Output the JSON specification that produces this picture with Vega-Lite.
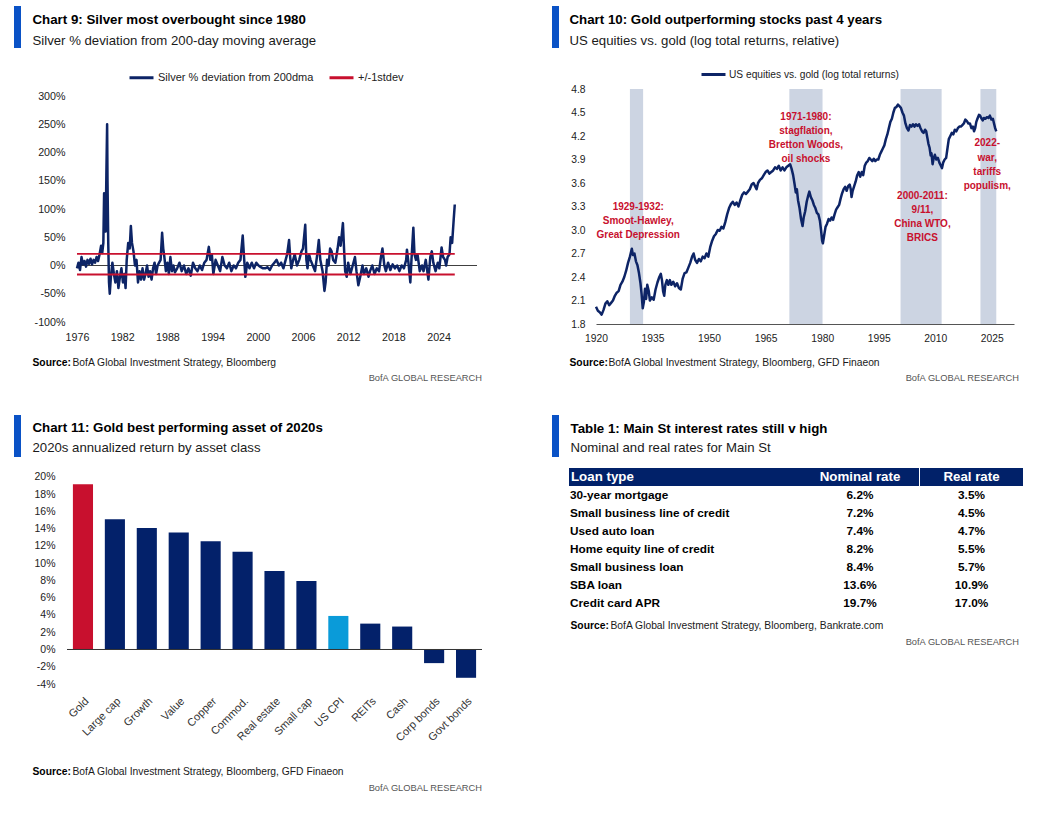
{
"$schema":"https://vega.github.io/schema/vega-lite/v6.json",
"background":"white",
"padding":{"left":14,"top":6,"right":10,"bottom":10},
"config":{
 "font":"Liberation Sans, Arial, sans-serif",
 "view":{"stroke":null},
 "axis":{"grid":false,"ticks":false,"domain":false,"labelFontSize":10.5,"labelColor":"#222222","labelFlush":false,"labelOverlap":false,"titleColor":"#000000","titleFontSize":10.3,"titleFontWeight":"bold","titleAlign":"left","titleBaseline":"middle","titleLimit":700},
 "legend":{"labelFontSize":10.5,"labelColor":"#222222","padding":0,"labelLimit":400}
},
"datasets":{
 "loans":[
  {"Loan type":"30-year mortgage","Nominal rate":0.062,"Real rate":0.035},
  {"Loan type":"Small business line of credit","Nominal rate":0.072,"Real rate":0.045},
  {"Loan type":"Used auto loan","Nominal rate":0.074,"Real rate":0.047},
  {"Loan type":"Home equity line of credit","Nominal rate":0.082,"Real rate":0.055},
  {"Loan type":"Small business loan","Nominal rate":0.084,"Real rate":0.057},
  {"Loan type":"SBA loan","Nominal rate":0.136,"Real rate":0.109},
  {"Loan type":"Credit card APR","Nominal rate":0.197,"Real rate":0.170}
 ]
},
"resolve":{"scale":{"color":"independent","fill":"independent"},"legend":{"color":"independent","fill":"independent"}},
"spacing":31,
"vconcat":[
 {"spacing":70,
  "resolve":{"scale":{"color":"independent","fill":"independent"},"legend":{"color":"independent","fill":"independent"}},
  "hconcat":[
   {"width":410,"height":233,
    "title":{"text":"BofA GLOBAL RESEARCH","orient":"bottom","anchor":"end","frame":"group","fontSize":9.3,"fontWeight":"normal","color":"#555555","offset":7,"dx":5},
    "resolve":{"axis":{"x":"independent","y":"independent"}},
    "layer":[
     {"data":{"values":[{"t0":1976,"t1":2029.1,"v":0}]},"mark":{"type":"rule","color":"#404040","strokeWidth":1},
      "encoding":{"x":{"field":"t0","type":"quantitative","axis":null},"x2":{"field":"t1"},"y":{"field":"v","type":"quantitative","scale":{"domain":[-100,312.4],"nice":false,"zero":false},"axis":null}}},
     {"data":{"values":[
{"t":1976,"v":-5},{"t":1976.2,"v":5},{"t":1976.4,"v":-8},{"t":1976.6,"v":15},{"t":1976.8,"v":2},{"t":1977,"v":8},{"t":1977.2,"v":-2},{"t":1977.4,"v":10},{"t":1977.6,"v":3},{"t":1977.8,"v":12},{"t":1978,"v":2},{"t":1978.2,"v":10},{"t":1978.4,"v":5},{"t":1978.6,"v":15},{"t":1978.8,"v":8},{"t":1979,"v":20},{"t":1979.2,"v":35},{"t":1979.35,"v":22},{"t":1979.5,"v":40},{"t":1979.6,"v":128},{"t":1979.7,"v":90},{"t":1979.8,"v":60},{"t":1979.9,"v":160},{"t":1980,"v":250},{"t":1980.05,"v":150},{"t":1980.15,"v":40},{"t":1980.25,"v":-30},{"t":1980.35,"v":-50},{"t":1980.5,"v":-20},{"t":1980.7,"v":5},{"t":1980.9,"v":-15},{"t":1981.1,"v":-30},{"t":1981.3,"v":-10},{"t":1981.5,"v":-40},{"t":1981.7,"v":-20},{"t":1981.9,"v":-5},{"t":1982.1,"v":-30},{"t":1982.3,"v":-15},{"t":1982.45,"v":-40},{"t":1982.6,"v":10},{"t":1982.8,"v":40},{"t":1983,"v":30},{"t":1983.15,"v":70},{"t":1983.3,"v":40},{"t":1983.5,"v":25},{"t":1983.7,"v":0},{"t":1983.9,"v":10},{"t":1984.1,"v":-30},{"t":1984.3,"v":-10},{"t":1984.5,"v":-25},{"t":1984.7,"v":-5},{"t":1984.9,"v":-25},{"t":1985.1,"v":-15},{"t":1985.3,"v":0},{"t":1985.5,"v":-20},{"t":1985.7,"v":-10},{"t":1985.9,"v":-25},{"t":1986.1,"v":-5},{"t":1986.3,"v":5},{"t":1986.5,"v":-15},{"t":1986.7,"v":0},{"t":1986.9,"v":5},{"t":1987.1,"v":10},{"t":1987.3,"v":58},{"t":1987.45,"v":30},{"t":1987.6,"v":15},{"t":1987.8,"v":-10},{"t":1988,"v":5},{"t":1988.2,"v":-15},{"t":1988.4,"v":15},{"t":1988.6,"v":-10},{"t":1988.8,"v":0},{"t":1989,"v":-12},{"t":1989.3,"v":-5},{"t":1989.6,"v":5},{"t":1989.9,"v":-10},{"t":1990.2,"v":0},{"t":1990.5,"v":-15},{"t":1990.8,"v":-5},{"t":1991.1,"v":-18},{"t":1991.4,"v":5},{"t":1991.7,"v":-5},{"t":1992,"v":-10},{"t":1992.3,"v":0},{"t":1992.6,"v":-8},{"t":1992.9,"v":5},{"t":1993.2,"v":10},{"t":1993.5,"v":33},{"t":1993.7,"v":10},{"t":1993.9,"v":20},{"t":1994.1,"v":-15},{"t":1994.4,"v":10},{"t":1994.7,"v":0},{"t":1995,"v":-10},{"t":1995.3,"v":15},{"t":1995.6,"v":0},{"t":1995.9,"v":-5},{"t":1996.2,"v":5},{"t":1996.5,"v":-10},{"t":1996.8,"v":0},{"t":1997.1,"v":-5},{"t":1997.4,"v":5},{"t":1997.7,"v":10},{"t":1998,"v":53},{"t":1998.15,"v":20},{"t":1998.35,"v":-20},{"t":1998.6,"v":5},{"t":1998.9,"v":-5},{"t":1999.2,"v":5},{"t":1999.5,"v":-5},{"t":1999.8,"v":5},{"t":2000.1,"v":0},{"t":2000.4,"v":-3},{"t":2000.7,"v":-5},{"t":2001,"v":-5},{"t":2001.3,"v":-3},{"t":2001.6,"v":-8},{"t":2001.9,"v":0},{"t":2002.2,"v":5},{"t":2002.5,"v":10},{"t":2002.8,"v":0},{"t":2003.1,"v":5},{"t":2003.4,"v":-5},{"t":2003.7,"v":10},{"t":2003.9,"v":20},{"t":2004.15,"v":45},{"t":2004.3,"v":15},{"t":2004.45,"v":-5},{"t":2004.7,"v":10},{"t":2004.9,"v":20},{"t":2005.2,"v":0},{"t":2005.5,"v":10},{"t":2005.8,"v":25},{"t":2006,"v":30},{"t":2006.3,"v":72},{"t":2006.45,"v":10},{"t":2006.6,"v":-5},{"t":2006.8,"v":20},{"t":2007,"v":10},{"t":2007.3,"v":0},{"t":2007.6,"v":-10},{"t":2007.9,"v":20},{"t":2008.1,"v":45},{"t":2008.3,"v":10},{"t":2008.6,"v":-10},{"t":2008.85,"v":-45},{"t":2009,"v":-30},{"t":2009.2,"v":10},{"t":2009.4,"v":0},{"t":2009.6,"v":30},{"t":2009.8,"v":25},{"t":2010,"v":10},{"t":2010.3,"v":5},{"t":2010.6,"v":30},{"t":2010.8,"v":50},{"t":2011,"v":35},{"t":2011.3,"v":75},{"t":2011.45,"v":30},{"t":2011.6,"v":-10},{"t":2011.8,"v":-20},{"t":2012,"v":5},{"t":2012.3,"v":-15},{"t":2012.6,"v":0},{"t":2012.9,"v":15},{"t":2013.1,"v":-10},{"t":2013.35,"v":-35},{"t":2013.6,"v":-20},{"t":2013.9,"v":0},{"t":2014.1,"v":-15},{"t":2014.4,"v":-5},{"t":2014.7,"v":-20},{"t":2014.9,"v":-10},{"t":2015.2,"v":0},{"t":2015.5,"v":-15},{"t":2015.8,"v":-5},{"t":2016.1,"v":-10},{"t":2016.35,"v":15},{"t":2016.55,"v":30},{"t":2016.8,"v":0},{"t":2017,"v":-10},{"t":2017.3,"v":5},{"t":2017.6,"v":-8},{"t":2017.9,"v":2},{"t":2018.2,"v":-5},{"t":2018.5,"v":0},{"t":2018.8,"v":-10},{"t":2019.1,"v":0},{"t":2019.4,"v":-5},{"t":2019.7,"v":10},{"t":2019.8,"v":28},{"t":2020,"v":5},{"t":2020.25,"v":-30},{"t":2020.4,"v":10},{"t":2020.65,"v":67},{"t":2020.8,"v":20},{"t":2021,"v":10},{"t":2021.2,"v":20},{"t":2021.5,"v":-10},{"t":2021.8,"v":0},{"t":2022,"v":-10},{"t":2022.3,"v":10},{"t":2022.65,"v":-25},{"t":2022.9,"v":15},{"t":2023.1,"v":25},{"t":2023.3,"v":5},{"t":2023.6,"v":-10},{"t":2023.9,"v":5},{"t":2024.1,"v":-5},{"t":2024.4,"v":32},{"t":2024.6,"v":15},{"t":2024.85,"v":10},{"t":2025,"v":0},{"t":2025.2,"v":15},{"t":2025.45,"v":20},{"t":2025.6,"v":50},{"t":2025.8,"v":40},{"t":2026,"v":80},{"t":2026.15,"v":108}
     ]},
      "mark":{"type":"line","strokeWidth":2.5,"strokeJoin":"round"},
      "encoding":{
       "x":{"field":"t","type":"quantitative","scale":{"domain":[1974.674,2029.1],"nice":false,"zero":false},"axis":{"values":[1976,1982,1988,1994,2000,2006,2012,2018,2024],"format":"d","labelFontSize":10.7,"labelPadding":10,"labelOverlap":false,"labelFlush":false,"title":"Source:","titleX":-35,"titleY":40}},
       "y":{"field":"v","type":"quantitative","scale":{"domain":[-100,312.4],"nice":false,"zero":false},"axis":{"values":[-100,-50,0,50,100,150,200,250,300],"labelExpr":"datum.value + '%'","labelFontSize":10.7,"labelPadding":2,"labelOverlap":false,"labelFlush":false,"title":"BofA Global Investment Strategy, Bloomberg","titleAngle":0,"titleX":5,"titleY":273,"titleFontWeight":"normal","titleColor":"#1a1a1a"}},
       "color":{"datum":"Silver % deviation from 200dma","type":"nominal","scale":{"domain":["Silver % deviation from 200dma","+/-1stdev"],"range":["#0D2466","#C8102E"]},"legend":{"orient":"none","legendX":61,"legendY":-25,"direction":"horizontal","title":null,"symbolType":"stroke","symbolStrokeWidth":3,"symbolSize":576,"labelFontSize":11,"columnPadding":9,"labelOffset":3,"padding":0}}}},
     {"data":{"values":[{"t":1976,"v":20.6,"k":"up"},{"t":2026.15,"v":20.6,"k":"up"},{"t":1976,"v":-15.9,"k":"dn"},{"t":2026.15,"v":-15.9,"k":"dn"}]},
      "mark":{"type":"line","strokeWidth":1.8},
      "encoding":{"x":{"field":"t","type":"quantitative","axis":null},"y":{"field":"v","type":"quantitative","scale":{"domain":[-100,312.4],"nice":false,"zero":false},"axis":null},"detail":{"field":"k","type":"nominal"},"color":{"datum":"+/-1stdev","type":"nominal"}}},
     {"data":{"values":[{"b":0},{"b":1}]},
      "mark":{"type":"point","filled":true,"size":0,"opacity":1},
      "encoding":{
       "x":{"datum":2000,"type":"quantitative","axis":{"orient":"top","labels":false,"title":"Chart 9: Silver most overbought since 1980","titleX":-35,"titleY":-70,"titleFontSize":13.3,"titleFontWeight":"bold","titleColor":"#000000"}},
       "y":{"datum":0,"type":"quantitative","axis":{"orient":"right","labels":false,"title":"Silver % deviation from 200-day moving average","titleAngle":0,"titleX":-445,"titleY":-49,"titleFontSize":13.2,"titleFontWeight":"normal","titleColor":"#1a1a1a"}},
       "fill":{"field":"b","type":"quantitative","scale":{"range":["#0A52C6","#0A52C6"]},"legend":{"orient":"none","legendX":-53,"legendY":-83,"direction":"vertical","title":null,"gradientLength":42,"gradientThickness":7,"gradientStrokeWidth":0,"gradientOpacity":1,"labelExpr":"''","labelOpacity":0,"padding":0}}}}
    ]},
   {"width":418,"height":235,
    "title":{"text":"BofA GLOBAL RESEARCH","orient":"bottom","anchor":"end","frame":"group","fontSize":9.3,"fontWeight":"normal","color":"#555555","offset":7,"dx":5},
    "resolve":{"axis":{"x":"independent","y":"independent"}},
    "layer":[
     {"data":{"values":[{"start":1929.0,"end":1932.5},{"start":1971.3,"end":1980.1},{"start":2000.8,"end":2011.7},{"start":2022.0,"end":2026.2}]},
      "mark":{"type":"rect","color":"#CCD4E2"},
      "encoding":{"x":{"field":"start","type":"quantitative","scale":{"domain":[1920,2030.9],"nice":false,"zero":false},"axis":{"values":[1920,1935,1950,1965,1980,1995,2010,2025],"format":"d","labelFontSize":10.3,"labelPadding":9,"labelOverlap":false,"labelFlush":false,"domain":true,"domainColor":"#555555","domainWidth":1,"title":"Source:","titleX":-27,"titleY":38}},"x2":{"field":"end"}}},
     {"data":{"values":[
{"t":1920,"v":2.02},{"t":1920.5,"v":1.97},{"t":1921,"v":1.95},{"t":1921.5,"v":1.92},{"t":1922,"v":1.98},{"t":1922.5,"v":2.06},{"t":1923,"v":2.09},{"t":1923.5,"v":2.04},{"t":1924,"v":2.07},{"t":1924.5,"v":2.10},{"t":1925,"v":2.16},{"t":1925.5,"v":2.20},{"t":1926,"v":2.22},{"t":1926.5,"v":2.30},{"t":1927,"v":2.34},{"t":1927.5,"v":2.40},{"t":1928,"v":2.48},{"t":1928.5,"v":2.58},{"t":1929,"v":2.66},{"t":1929.5,"v":2.76},{"t":1929.8,"v":2.68},{"t":1930.2,"v":2.70},{"t":1930.6,"v":2.60},{"t":1931,"v":2.55},{"t":1931.4,"v":2.45},{"t":1931.8,"v":2.32},{"t":1932.1,"v":2.18},{"t":1932.4,"v":2.00},{"t":1932.7,"v":2.08},{"t":1933,"v":2.25},{"t":1933.3,"v":2.12},{"t":1933.6,"v":2.30},{"t":1934,"v":2.22},{"t":1934.3,"v":2.10},{"t":1934.8,"v":2.14},{"t":1935.3,"v":2.11},{"t":1935.8,"v":2.24},{"t":1936.3,"v":2.33},{"t":1936.8,"v":2.40},{"t":1937.2,"v":2.44},{"t":1937.5,"v":2.36},{"t":1937.8,"v":2.22},{"t":1938.1,"v":2.16},{"t":1938.4,"v":2.30},{"t":1938.8,"v":2.36},{"t":1939.2,"v":2.30},{"t":1939.6,"v":2.36},{"t":1940,"v":2.30},{"t":1940.5,"v":2.34},{"t":1941,"v":2.28},{"t":1941.5,"v":2.32},{"t":1942,"v":2.26},{"t":1942.5,"v":2.24},{"t":1943,"v":2.38},{"t":1943.5,"v":2.45},{"t":1944,"v":2.46},{"t":1944.5,"v":2.52},{"t":1945,"v":2.58},{"t":1945.5,"v":2.66},{"t":1945.9,"v":2.70},{"t":1946.3,"v":2.62},{"t":1946.8,"v":2.58},{"t":1947.3,"v":2.63},{"t":1947.8,"v":2.60},{"t":1948.3,"v":2.66},{"t":1948.8,"v":2.64},{"t":1949.3,"v":2.70},{"t":1949.8,"v":2.66},{"t":1950.3,"v":2.78},{"t":1950.8,"v":2.86},{"t":1951.3,"v":2.92},{"t":1951.8,"v":2.95},{"t":1952.3,"v":3.00},{"t":1952.8,"v":2.99},{"t":1953.3,"v":3.04},{"t":1953.8,"v":3.02},{"t":1954.3,"v":3.10},{"t":1954.8,"v":3.20},{"t":1955.3,"v":3.28},{"t":1955.8,"v":3.33},{"t":1956.3,"v":3.36},{"t":1956.8,"v":3.32},{"t":1957.3,"v":3.35},{"t":1957.8,"v":3.30},{"t":1958.3,"v":3.38},{"t":1958.8,"v":3.45},{"t":1959.3,"v":3.48},{"t":1959.8,"v":3.46},{"t":1960.3,"v":3.49},{"t":1960.8,"v":3.52},{"t":1961.3,"v":3.58},{"t":1961.8,"v":3.60},{"t":1962.3,"v":3.55},{"t":1962.6,"v":3.52},{"t":1963,"v":3.60},{"t":1963.5,"v":3.64},{"t":1964,"v":3.66},{"t":1964.5,"v":3.70},{"t":1965,"v":3.74},{"t":1965.5,"v":3.76},{"t":1966,"v":3.72},{"t":1966.5,"v":3.74},{"t":1967,"v":3.76},{"t":1967.5,"v":3.80},{"t":1968,"v":3.78},{"t":1968.5,"v":3.82},{"t":1969,"v":3.76},{"t":1969.5,"v":3.80},{"t":1970,"v":3.76},{"t":1970.5,"v":3.80},{"t":1971,"v":3.82},{"t":1971.5,"v":3.84},{"t":1971.9,"v":3.78},{"t":1972.3,"v":3.70},{"t":1972.7,"v":3.58},{"t":1973,"v":3.48},{"t":1973.3,"v":3.52},{"t":1973.6,"v":3.38},{"t":1974,"v":3.28},{"t":1974.4,"v":3.14},{"t":1974.8,"v":3.05},{"t":1975.1,"v":3.16},{"t":1975.5,"v":3.24},{"t":1975.9,"v":3.36},{"t":1976.3,"v":3.44},{"t":1976.6,"v":3.49},{"t":1977,"v":3.42},{"t":1977.4,"v":3.38},{"t":1977.8,"v":3.32},{"t":1978.2,"v":3.28},{"t":1978.6,"v":3.22},{"t":1979,"v":3.20},{"t":1979.4,"v":3.12},{"t":1979.7,"v":3.00},{"t":1980,"v":2.86},{"t":1980.2,"v":2.83},{"t":1980.5,"v":2.92},{"t":1980.9,"v":3.04},{"t":1981.3,"v":3.08},{"t":1981.7,"v":3.14},{"t":1982.1,"v":3.12},{"t":1982.5,"v":3.16},{"t":1982.9,"v":3.13},{"t":1983.3,"v":3.20},{"t":1983.7,"v":3.26},{"t":1984.1,"v":3.29},{"t":1984.5,"v":3.32},{"t":1984.9,"v":3.40},{"t":1985.3,"v":3.47},{"t":1985.7,"v":3.52},{"t":1986.1,"v":3.55},{"t":1986.5,"v":3.50},{"t":1986.9,"v":3.56},{"t":1987.3,"v":3.58},{"t":1987.6,"v":3.52},{"t":1987.8,"v":3.42},{"t":1988.1,"v":3.50},{"t":1988.5,"v":3.56},{"t":1988.9,"v":3.62},{"t":1989.3,"v":3.70},{"t":1989.7,"v":3.74},{"t":1990.1,"v":3.68},{"t":1990.5,"v":3.74},{"t":1990.9,"v":3.70},{"t":1991.3,"v":3.82},{"t":1991.7,"v":3.86},{"t":1992.1,"v":3.88},{"t":1992.5,"v":3.92},{"t":1992.9,"v":3.90},{"t":1993.3,"v":3.88},{"t":1993.7,"v":3.91},{"t":1994.1,"v":3.88},{"t":1994.5,"v":3.90},{"t":1994.9,"v":3.90},{"t":1995.3,"v":3.96},{"t":1995.7,"v":4.00},{"t":1996.1,"v":4.04},{"t":1996.5,"v":4.08},{"t":1996.9,"v":4.16},{"t":1997.3,"v":4.22},{"t":1997.7,"v":4.30},{"t":1998.1,"v":4.38},{"t":1998.5,"v":4.42},{"t":1998.9,"v":4.50},{"t":1999.3,"v":4.56},{"t":1999.7,"v":4.57},{"t":2000.1,"v":4.60},{"t":2000.5,"v":4.58},{"t":2000.9,"v":4.56},{"t":2001.3,"v":4.50},{"t":2001.7,"v":4.46},{"t":2002.1,"v":4.36},{"t":2002.5,"v":4.30},{"t":2002.9,"v":4.27},{"t":2003.3,"v":4.34},{"t":2003.7,"v":4.32},{"t":2004.1,"v":4.35},{"t":2004.5,"v":4.32},{"t":2004.9,"v":4.35},{"t":2005.3,"v":4.33},{"t":2005.7,"v":4.35},{"t":2006.1,"v":4.30},{"t":2006.5,"v":4.26},{"t":2006.9,"v":4.24},{"t":2007.3,"v":4.28},{"t":2007.6,"v":4.26},{"t":2007.9,"v":4.18},{"t":2008.2,"v":4.10},{"t":2008.5,"v":4.05},{"t":2008.8,"v":3.95},{"t":2009.0,"v":3.98},{"t":2009.3,"v":3.84},{"t":2009.6,"v":3.92},{"t":2009.9,"v":3.96},{"t":2010.3,"v":3.90},{"t":2010.7,"v":3.92},{"t":2011.1,"v":3.86},{"t":2011.5,"v":3.82},{"t":2011.8,"v":3.79},{"t":2012.1,"v":3.86},{"t":2012.5,"v":3.90},{"t":2012.9,"v":3.92},{"t":2013.3,"v":4.06},{"t":2013.6,"v":4.16},{"t":2014,"v":4.20},{"t":2014.4,"v":4.24},{"t":2014.8,"v":4.22},{"t":2015.2,"v":4.28},{"t":2015.6,"v":4.26},{"t":2016,"v":4.30},{"t":2016.4,"v":4.32},{"t":2016.8,"v":4.32},{"t":2017.2,"v":4.34},{"t":2017.6,"v":4.36},{"t":2018,"v":4.41},{"t":2018.4,"v":4.39},{"t":2018.8,"v":4.36},{"t":2019.2,"v":4.36},{"t":2019.6,"v":4.30},{"t":2020,"v":4.32},{"t":2020.3,"v":4.26},{"t":2020.6,"v":4.30},{"t":2020.9,"v":4.38},{"t":2021.2,"v":4.42},{"t":2021.6,"v":4.47},{"t":2021.9,"v":4.46},{"t":2022.2,"v":4.43},{"t":2022.6,"v":4.40},{"t":2022.9,"v":4.43},{"t":2023.3,"v":4.42},{"t":2023.7,"v":4.44},{"t":2024.1,"v":4.43},{"t":2024.5,"v":4.46},{"t":2024.9,"v":4.41},{"t":2025.3,"v":4.42},{"t":2025.6,"v":4.36},{"t":2025.9,"v":4.30},{"t":2026.2,"v":4.26}
     ]},
      "mark":{"type":"line","strokeWidth":2.5,"strokeJoin":"round"},
      "encoding":{
       "x":{"field":"t","type":"quantitative","axis":null},
       "y":{"field":"v","type":"quantitative","scale":{"domain":[1.8,4.8],"nice":false,"zero":false},"axis":{"values":[1.8,2.1,2.4,2.7,3.0,3.3,3.6,3.9,4.2,4.5,4.8],"format":".1f","labelFontSize":10.3,"labelPadding":11,"labelOverlap":false,"labelFlush":false,"title":"BofA Global Investment Strategy, Bloomberg, GFD Finaeon","titleAngle":0,"titleX":12,"titleY":273,"titleFontWeight":"normal","titleColor":"#1a1a1a"}},
       "color":{"datum":"US equities vs. gold (log total returns)","type":"nominal","scale":{"range":["#0D2466"]},"legend":{"orient":"none","legendX":104,"legendY":-28,"direction":"horizontal","title":null,"symbolType":"stroke","symbolStrokeWidth":3,"symbolSize":576,"labelFontSize":10.2,"labelOffset":2,"padding":0}}}},
     {"data":{"values":[
{"t":1931.2,"v":3.30,"label":"1929-1932:"},{"t":1931.2,"v":3.11,"label":"Smoot-Hawley,"},{"t":1931.2,"v":2.94,"label":"Great Depression"},
{"t":1975.7,"v":4.44,"label":"1971-1980:"},{"t":1975.7,"v":4.26,"label":"stagflation,"},{"t":1975.7,"v":4.09,"label":"Bretton Woods,"},{"t":1975.7,"v":3.91,"label":"oil shocks"},
{"t":2006.6,"v":3.44,"label":"2000-2011:"},{"t":2006.6,"v":3.26,"label":"9/11,"},{"t":2006.6,"v":3.08,"label":"China WTO,"},{"t":2006.6,"v":2.90,"label":"BRICS"},
{"t":2023.8,"v":4.11,"label":"2022-"},{"t":2023.8,"v":3.92,"label":"war,"},{"t":2023.8,"v":3.74,"label":"tariffs"},{"t":2023.8,"v":3.56,"label":"populism,"}
     ]},
      "mark":{"type":"text","color":"#C8102E","fontWeight":"bold","fontSize":10,"align":"center","baseline":"middle"},
      "encoding":{"x":{"field":"t","type":"quantitative","axis":null},"y":{"field":"v","type":"quantitative","scale":{"domain":[1.8,4.8],"nice":false,"zero":false},"axis":null},"text":{"field":"label","type":"nominal"}}},
     {"data":{"values":[{"b":0},{"b":1}]},
      "mark":{"type":"point","filled":true,"size":0,"opacity":1},
      "encoding":{
       "x":{"datum":1980,"type":"quantitative","axis":{"orient":"top","labels":false,"title":"Chart 10: Gold outperforming stocks past 4 years","titleX":-27,"titleY":-70,"titleFontSize":13.3,"titleFontWeight":"bold","titleColor":"#000000"}},
       "y":{"datum":3,"type":"quantitative","axis":{"orient":"right","labels":false,"title":"US equities vs. gold (log total returns, relative)","titleAngle":0,"titleX":-445,"titleY":-49,"titleFontSize":13.2,"titleFontWeight":"normal","titleColor":"#1a1a1a"}},
       "fill":{"field":"b","type":"quantitative","scale":{"range":["#0A52C6","#0A52C6"]},"legend":{"orient":"none","legendX":-44,"legendY":-83,"direction":"vertical","title":null,"gradientLength":42,"gradientThickness":7,"gradientStrokeWidth":0,"gradientOpacity":1,"labelExpr":"''","labelOpacity":0,"padding":0}}}}
    ]}
 ]},
 {"spacing":69,
  "resolve":{"scale":{"color":"independent","fill":"independent"},"legend":{"color":"independent","fill":"independent"}},
  "hconcat":[
   {"width":415,"height":216,
    "title":{"text":"BofA GLOBAL RESEARCH","orient":"bottom","anchor":"end","frame":"group","fontSize":9.3,"fontWeight":"normal","color":"#555555","offset":8,"dx":0},
    "resolve":{"axis":{"x":"independent","y":"independent"}},
    "layer":[
     {"data":{"values":[
{"asset":"Gold","ret":19.15,"group":"Gold"},{"asset":"Large cap","ret":15.1,"group":"Other"},{"asset":"Growth","ret":14.07,"group":"Other"},{"asset":"Value","ret":13.56,"group":"Other"},{"asset":"Copper","ret":12.56,"group":"Other"},{"asset":"Commod.","ret":11.33,"group":"Other"},{"asset":"Real estate","ret":9.09,"group":"Other"},{"asset":"Small cap","ret":7.94,"group":"Other"},{"asset":"US CPI","ret":3.89,"group":"US CPI"},{"asset":"REITs","ret":3.0,"group":"Other"},{"asset":"Cash","ret":2.66,"group":"Other"},{"asset":"Corp bonds","ret":-1.58,"group":"Other"},{"asset":"Govt bonds","ret":-3.28,"group":"Other"}
     ]},
      "mark":{"type":"bar"},
      "encoding":{
       "x":{"field":"asset","type":"nominal","sort":null,"scale":{"paddingInner":0.37,"paddingOuter":0.185},"axis":{"labelAngle":-45,"labelPadding":11,"labelFontSize":11,"labelColor":"#333333","labelOverlap":false,"title":"Source:","titleX":-35,"titleY":87}},
       "y":{"field":"ret","type":"quantitative","scale":{"domain":[-4,21.04],"nice":false,"zero":false},"axis":{"values":[-4,-2,0,2,4,6,8,10,12,14,16,18,20],"labelExpr":"datum.value + '%'","labelFontSize":10.5,"labelPadding":12,"labelOverlap":false,"labelFlush":false,"title":"BofA Global Investment Strategy, Bloomberg, GFD Finaeon","titleAngle":0,"titleX":5,"titleY":303,"titleFontWeight":"normal","titleColor":"#1a1a1a"}},
       "color":{"field":"group","type":"nominal","scale":{"domain":["Gold","US CPI","Other"],"range":["#C8102E","#0A9BD9","#03216A"]},"legend":null}}},
     {"data":{"values":[{"ret":0}]},"mark":{"type":"rule","color":"#333333","strokeWidth":1},
      "encoding":{"y":{"field":"ret","type":"quantitative","scale":{"domain":[-4,21.04],"nice":false,"zero":false},"axis":null}}},
     {"data":{"values":[{"b":0},{"b":1}]},
      "mark":{"type":"point","filled":true,"size":0,"opacity":1},
      "encoding":{
       "x":{"datum":"Gold","type":"nominal","axis":{"orient":"top","labels":false,"title":"Chart 11: Gold best performing asset of 2020s","titleX":-35,"titleY":-41,"titleFontSize":13.3,"titleFontWeight":"bold","titleColor":"#000000"}},
       "y":{"datum":0,"type":"quantitative","axis":{"orient":"right","labels":false,"title":"2020s annualized return by asset class","titleAngle":0,"titleX":-450,"titleY":-21,"titleFontSize":13.2,"titleFontWeight":"normal","titleColor":"#1a1a1a"}},
       "fill":{"field":"b","type":"quantitative","scale":{"range":["#0A52C6","#0A52C6"]},"legend":{"orient":"none","legendX":-53,"legendY":-53,"direction":"vertical","title":null,"gradientLength":42,"gradientThickness":7,"gradientStrokeWidth":0,"gradientOpacity":1,"labelExpr":"''","labelOpacity":0,"padding":0}}}}
    ]},
   {"title":{"text":"BofA GLOBAL RESEARCH","orient":"bottom","anchor":"end","fontSize":9.3,"fontWeight":"normal","color":"#555555","offset":8,"dx":-4},
    "bounds":"flush","spacing":0,
    "resolve":{"scale":{"color":"independent","fill":"independent"},"legend":{"color":"independent","fill":"independent"}},
    "hconcat":[
     {"width":232,"height":144,
      "resolve":{"axis":{"x":"independent","y":"independent"}},
      "layer":[
       {"data":{"values":[{"row":"header"}]},"mark":{"type":"rect","color":"#012169"},
        "encoding":{"y":{"field":"row","type":"nominal","scale":{"domain":["header","30-year mortgage","Small business line of credit","Used auto loan","Home equity line of credit","Small business loan","SBA loan","Credit card APR"],"paddingInner":0,"paddingOuter":0},"axis":{"labels":false,"title":"BofA Global Investment Strategy, Bloomberg, Bankrate.com","titleAngle":0,"titleX":41,"titleY":157,"titleFontWeight":"normal","titleColor":"#1a1a1a"}}}},
       {"data":{"values":[{"row":"header","label":"Loan type"}]},"mark":{"type":"text","color":"#ffffff","fontWeight":"bold","fontSize":13.3,"align":"left","baseline":"middle","dx":2},
        "encoding":{"x":{"datum":"Loan type","type":"nominal","scale":{"type":"point","padding":0,"align":0},"axis":{"labels":false,"title":"Source:","titleX":1,"titleY":13}},
         "y":{"field":"row","type":"nominal","axis":null},
         "text":{"field":"label","type":"nominal"}}},
       {"data":{"name":"loans"},"mark":{"type":"text","color":"#000000","fontWeight":"bold","fontSize":11.8,"align":"left","baseline":"middle","dx":1},
        "encoding":{"x":{"datum":"Loan type","type":"nominal","axis":null},
         "y":{"field":"Loan type","type":"nominal","axis":null},
         "text":{"field":"Loan type","type":"nominal"}}},
       {"data":{"values":[{"b":0},{"b":1}]},
        "mark":{"type":"point","filled":true,"size":0,"opacity":1},
        "encoding":{
         "x":{"datum":"Loan type","type":"nominal","axis":{"orient":"top","labels":false,"title":"Table 1: Main St interest rates still v high","titleX":1,"titleY":-40,"titleFontSize":13.3,"titleFontWeight":"bold","titleColor":"#000000"}},
         "y":{"datum":"header","type":"nominal","axis":{"orient":"right","labels":false,"title":"Nominal and real rates for Main St","titleAngle":0,"titleX":-231,"titleY":-21,"titleFontSize":13.2,"titleFontWeight":"normal","titleColor":"#1a1a1a"}},
         "fill":{"field":"b","type":"quantitative","scale":{"range":["#0A52C6","#0A52C6"]},"legend":{"orient":"none","legendX":-17,"legendY":-53,"direction":"vertical","title":null,"gradientLength":42,"gradientThickness":7,"gradientStrokeWidth":0,"gradientOpacity":1,"labelExpr":"''","labelOpacity":0,"padding":0}}}}
      ]},
     {"bounds":"flush","spacing":1,
      "hconcat":[
       {"width":118,"height":144,
        "layer":[
         {"data":{"values":[{"row":"header"}]},"mark":{"type":"rect","color":"#012169"},
          "encoding":{"y":{"field":"row","type":"nominal","scale":{"domain":["header","30-year mortgage","Small business line of credit","Used auto loan","Home equity line of credit","Small business loan","SBA loan","Credit card APR"],"paddingInner":0,"paddingOuter":0},"axis":null}}},
         {"data":{"values":[{"row":"header","label":"Nominal rate"}]},"mark":{"type":"text","color":"#ffffff","fontWeight":"bold","fontSize":13.3,"align":"center","baseline":"middle"},
          "encoding":{"y":{"field":"row","type":"nominal","axis":null},"text":{"field":"label","type":"nominal"}}},
         {"data":{"name":"loans"},"mark":{"type":"text","color":"#000000","fontWeight":"bold","fontSize":11.8,"align":"center","baseline":"middle"},
          "encoding":{"y":{"field":"Loan type","type":"nominal","axis":null},"text":{"field":"Nominal rate","type":"quantitative","format":".1%"}}}
        ]},
       {"width":103,"height":144,
        "layer":[
         {"data":{"values":[{"row":"header"}]},"mark":{"type":"rect","color":"#012169"},
          "encoding":{"y":{"field":"row","type":"nominal","scale":{"domain":["header","30-year mortgage","Small business line of credit","Used auto loan","Home equity line of credit","Small business loan","SBA loan","Credit card APR"],"paddingInner":0,"paddingOuter":0},"axis":null}}},
         {"data":{"values":[{"row":"header","label":"Real rate"}]},"mark":{"type":"text","color":"#ffffff","fontWeight":"bold","fontSize":13.3,"align":"center","baseline":"middle"},
          "encoding":{"y":{"field":"row","type":"nominal","axis":null},"text":{"field":"label","type":"nominal"}}},
         {"data":{"name":"loans"},"mark":{"type":"text","color":"#000000","fontWeight":"bold","fontSize":11.8,"align":"center","baseline":"middle"},
          "encoding":{"y":{"field":"Loan type","type":"nominal","axis":null},"text":{"field":"Real rate","type":"quantitative","format":".1%"}}}
        ]}
      ]}
    ]}
 ]}
]
}
